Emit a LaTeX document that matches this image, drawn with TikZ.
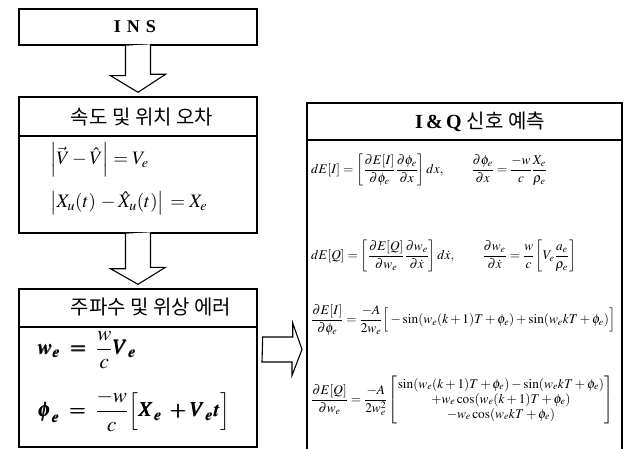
\documentclass[tikz,border=0pt]{standalone}
\usepackage{amsmath}
\usepackage{mathptmx}
\usepackage{bm}
\usepackage[no-math]{fontspec}
\setmainfont{Liberation Serif}
\newfontfamily\kr{Noto Sans CJK KR}
\usetikzlibrary{calc}
\begin{document}
\begin{tikzpicture}[x=1pt,y=-1pt]
\tikzset{
  frame/.style={draw, line width=1.4pt, inner sep=0pt},
  blockarrow/.style={draw, line width=1.1pt, fill=white, line join=miter},
  divider/.style={draw, line width=1.4pt},
  bigtxt/.style={font=\fontsize{18}{20}\selectfont, inner sep=0pt},
  krtxt/.style={font=\fontsize{20}{22}\selectfont\kr, inner sep=0pt},
  lefteq/.style={font=\fontsize{19}{21}\selectfont, inner sep=0pt, anchor=west},
  boldeq/.style={font=\fontsize{21}{23}\selectfont, inner sep=0pt, anchor=west},
  righteq/.style={font=\fontsize{13.3}{15}\selectfont, inner sep=0pt, anchor=west}
}
\useasboundingbox (0,0) rectangle (629,449);

% INS box
\node[frame, minimum width=238pt, minimum height=36pt] (ins) at (138,27) {};
\node[bigtxt] (instxt) at (135,27) {\bfseries I\hspace{6pt}N\hspace{6pt}S};

% velocity / position error box
\node[frame, minimum width=238pt, minimum height=136pt] (err) at (138,165) {};
\draw[divider] (err.west |- 0,136) -- (err.east |- 0,136);
\node[krtxt] (errtitle) at (142,117) {속도 및 위치 오차};
\node[lefteq] (eqv) at (50,160) {$\left|\vec{V}-\hat{V}\right|=V_e$};
\node[lefteq] (eqx) at (50,203) {$\left|X_u(t)\,-\hat{X}_u(t)\right|\,=X_e$};

% frequency / phase error box
\node[frame, minimum width=238pt, minimum height=158pt] (fp) at (138,368) {};
\draw[divider] (fp.west |- 0,327) -- (fp.east |- 0,327);
\node[krtxt] (fptitle) at (151,307) {주파수 및 위상 에러};
\node[boldeq] (eqw) at (37,350) {$\bm{w_e\;=\;\dfrac{w}{c}V_e}$};
\node[boldeq] (eqphi) at (37,411) {$\bm{\phi_e\;=\;\dfrac{-w}{c}\Big[X_e\;+V_e t\Big]}$};

% I & Q prediction box
\coordinate (iqtl) at (307,103);
\coordinate (iqtr) at (622,103);
\draw[line width=1.4pt] (iqtl |- 0,452) -- (iqtl) -- (iqtr) -- (iqtr |- 0,452);
\draw[divider] (iqtl |- 0,140) -- (iqtr |- 0,140);
\node[inner sep=0pt, font=\fontsize{20}{22}\selectfont] (iqtitle) at (480,122) {\bfseries I\,\&\,Q {\kr\mdseries 신호 예측}};

\node[righteq] (eq1) at (311,170) {$dE[I]=\left[\dfrac{\partial E[I]}{\partial\phi_e}\dfrac{\partial\phi_e}{\partial x}\right]dx,\qquad \dfrac{\partial\phi_e}{\partial x}=\dfrac{-w}{c}\dfrac{X_e}{\rho_e}$};
\node[righteq] (eq2) at (311,256) {$dE[Q]=\left[\dfrac{\partial E[Q]}{\partial w_e}\dfrac{\partial w_e}{\partial \dot{x}}\right]d\dot{x},\qquad \dfrac{\partial w_e}{\partial \dot{x}}=\dfrac{w}{c}\left[V_e\dfrac{a_e}{\rho_e}\right]$};
\node[righteq] (eq3) at (311,320) {$\dfrac{\partial E[I]}{\partial\phi_e}=\dfrac{-A}{2w_e}\Big[-\sin(w_e(k+1)T+\phi_e)+\sin(w_ekT+\phi_e)\Big]$};
\node[righteq] (eq4) at (311,400) {$\dfrac{\partial E[Q]}{\partial w_e}=\dfrac{-A}{2w_e^2}\left[\begin{array}{@{}c@{}}\sin(w_e(k+1)T+\phi_e)-\sin(w_ekT+\phi_e)\\ +w_e\cos(w_e(k+1)T+\phi_e)\\ -w_e\cos(w_ekT+\phi_e)\end{array}\right]$};

% block arrows
\coordinate (a1tip) at ($(err.north)+(0,-4)$);
\draw[blockarrow] ($(ins.south)+(-12.5,0)$) -- ++(0,30) -- ++(-15,0) -- (a1tip)
  -- ++(27.5,-18) -- ++(-15,0) -- ++(0,-30);
\coordinate (a2tip) at ($(fp.north)+(0,-4)$);
\draw[blockarrow] ($(err.south)+(-12.5,0)$) -- ++(0,35) -- ++(-15,0) -- (a2tip)
  -- ++(27.5,-17) -- ++(-15,0) -- ++(0,-35);
\coordinate (a3tip) at ($(iqtl |- 0,349.5)+(-5,0)$);
\draw[blockarrow] ($(fp.east |- a3tip)+(5,-12.5)$) -- ++(30,0) -- ++(0,-14) -- (a3tip)
  -- ++(-10,26) -- ++(0,-13.5) -- ++(-30,0) -- cycle;
\end{tikzpicture}
\end{document}
